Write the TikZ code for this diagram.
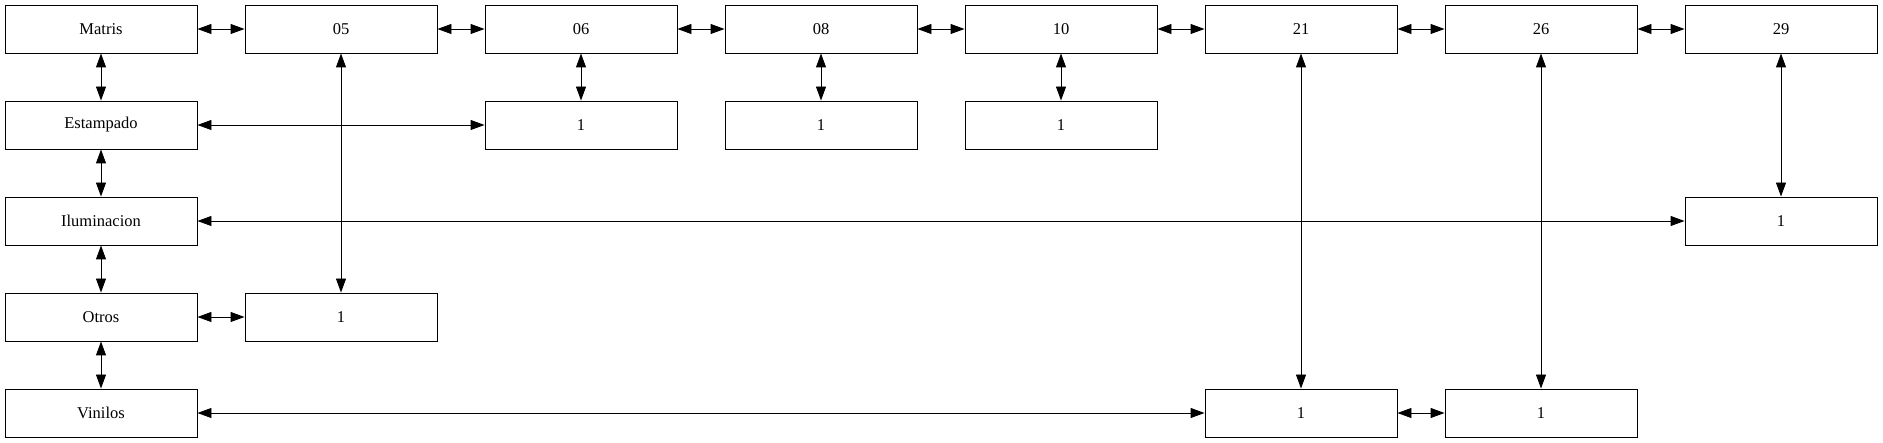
\documentclass[tikz,border=0pt]{standalone}
\usepackage{fontspec}
\setmainfont{Liberation Serif}
\usetikzlibrary{arrows.meta}
\begin{document}
\begin{tikzpicture}[x=1pt,y=-1pt,
  box/.style={draw=black,line width=0.9pt,minimum width=192pt,minimum height=48pt,inner sep=0pt,font=\fontsize{16.5}{19}\selectfont},
  link/.style={line width=0.9pt,{Triangle[length=14pt,width=10pt]}-{Triangle[length=14pt,width=10pt]}}]
\useasboundingbox (0,0) rectangle (1883,443);
\node[box] (matris) at (101,29) {Matris};
\node[box] (c05) at (341,29) {05};
\node[box] (c06) at (581,29) {06};
\node[box] (c08) at (821,29) {08};
\node[box] (c10) at (1061,29) {10};
\node[box] (c21) at (1301,29) {21};
\node[box] (c26) at (1541,29) {26};
\node[box] (c29) at (1781,29) {29};
\node[box] (est) at (101,125) {Estampado};
\node[box] (ilu) at (101,221) {Iluminacion};
\node[box] (otr) at (101,317) {Otros};
\node[box] (vin) at (101,413) {Vinilos};
\node[box] (e06) at (581,125) {1};
\node[box] (e08) at (821,125) {1};
\node[box] (e10) at (1061,125) {1};
\node[box] (i29) at (1781,221) {1};
\node[box] (o05) at (341,317) {1};
\node[box] (v21) at (1301,413) {1};
\node[box] (v26) at (1541,413) {1};
\draw[link] (matris) -- (c05);
\draw[link] (c05) -- (c06);
\draw[link] (c06) -- (c08);
\draw[link] (c08) -- (c10);
\draw[link] (c10) -- (c21);
\draw[link] (c21) -- (c26);
\draw[link] (c26) -- (c29);
\draw[link] (matris) -- (est);
\draw[link] (est) -- (ilu);
\draw[link] (ilu) -- (otr);
\draw[link] (otr) -- (vin);
\draw[link] (c05) -- (o05);
\draw[link] (c06) -- (e06);
\draw[link] (c08) -- (e08);
\draw[link] (c10) -- (e10);
\draw[link] (c21) -- (v21);
\draw[link] (c26) -- (v26);
\draw[link] (c29) -- (i29);
\draw[link] (est) -- (e06);
\draw[link] (ilu) -- (i29);
\draw[link] (otr) -- (o05);
\draw[link] (vin) -- (v21);
\draw[link] (v21) -- (v26);
\end{tikzpicture}
\end{document}
